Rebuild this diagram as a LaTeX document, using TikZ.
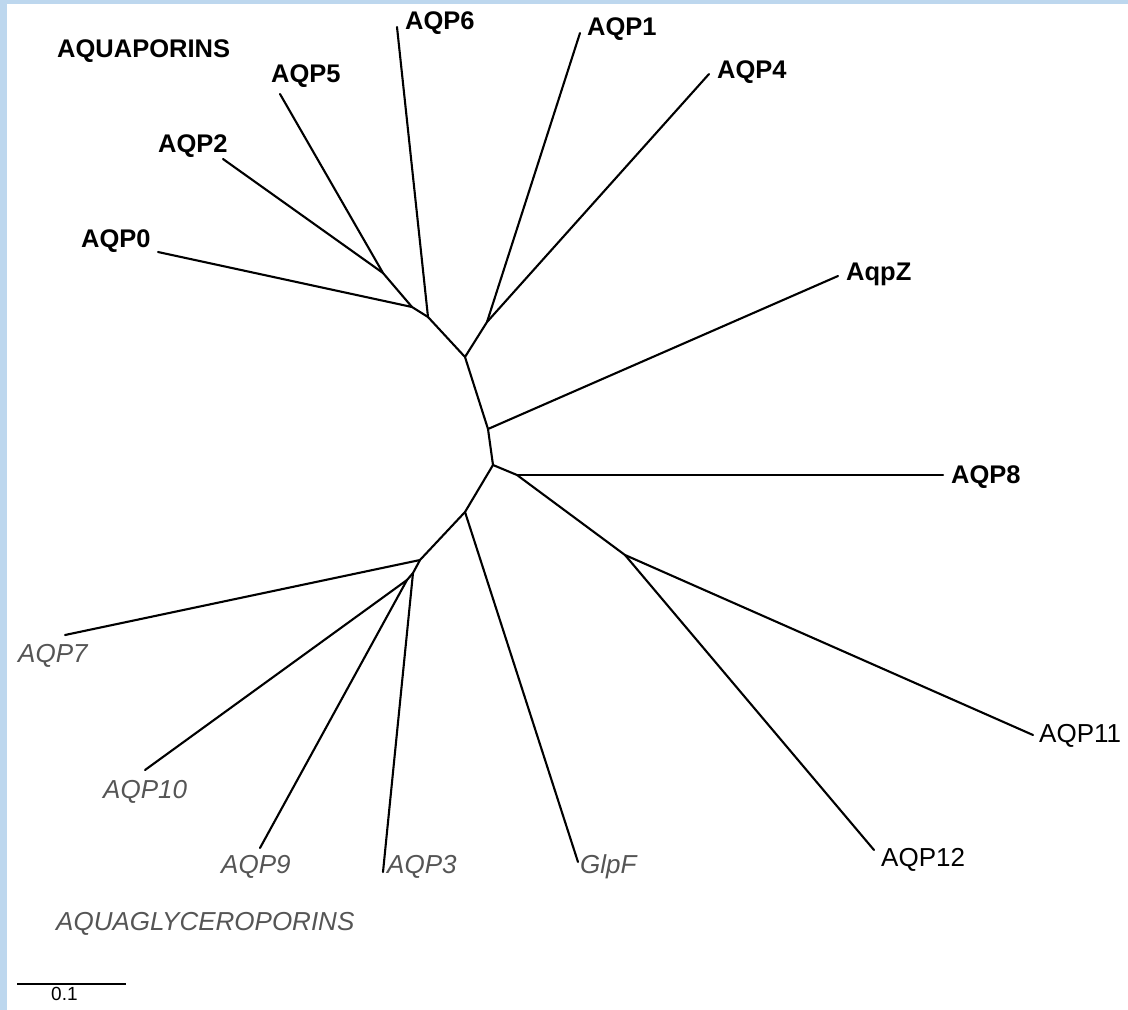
\documentclass[tikz,border=0pt]{standalone}
\usepackage{fontspec}
\setmainfont{Liberation Sans}
\definecolor{edgeblue}{RGB}{189,215,238}
\definecolor{glygray}{RGB}{85,85,85}
\tikzset{
  branch/.style={line width=2.1pt, black, line cap=round},
  aqlab/.style={anchor=base west, inner sep=0pt, font=\fontsize{25.5}{29}\selectfont\bfseries},
  glylab/.style={anchor=base west, inner sep=0pt, text=glygray, font=\fontsize{26}{30}\selectfont\itshape},
  otherlab/.style={anchor=base west, inner sep=0pt, font=\fontsize{26}{30}\selectfont},
}
\begin{document}
\begin{tikzpicture}[x=1pt,y=-1pt]
\useasboundingbox (0,0) rectangle (1128,1010);
\fill[white] (0,0) rectangle (1128,1010);
\fill[edgeblue] (0,0) rectangle (7,1010);
\fill[edgeblue] (0,0) rectangle (1128,4);

% internal nodes
\coordinate (A) at (383,273);
\coordinate (B) at (412,307);
\coordinate (C) at (428,317);
\coordinate (D) at (465,357);
\coordinate (E) at (487,322);
\coordinate (F) at (488,429);
\coordinate (G) at (493,465);
\coordinate (I) at (517,475);
\coordinate (H) at (625,555);
\coordinate (J) at (465,512);
\coordinate (K) at (420,560);
\coordinate (L) at (413,573);
\coordinate (M) at (407,580);

% leaf ends
\coordinate (l6) at (397,27);
\coordinate (l1) at (580,33);
\coordinate (l4) at (709,74);
\coordinate (lZ) at (838,276);
\coordinate (l5) at (280,94);
\coordinate (l2) at (223,159);
\coordinate (l0) at (158,252);
\coordinate (l8) at (943,475);
\coordinate (l11) at (1033,735);
\coordinate (l12) at (874,850);
\coordinate (lG) at (578,862);
\coordinate (l3) at (383,872);
\coordinate (l9) at (260,848);
\coordinate (l10) at (145,770);
\coordinate (l7) at (65,635);

% tree
\draw[branch] (l5) -- (A);
\draw[branch] (l2) -- (A);
\draw[branch] (A) -- (B) -- (C) -- (D);
\draw[branch] (l0) -- (B);
\draw[branch] (l6) -- (C);
\draw[branch] (D) -- (E);
\draw[branch] (l1) -- (E);
\draw[branch] (l4) -- (E);
\draw[branch] (D) -- (F) -- (G);
\draw[branch] (lZ) -- (F);
\draw[branch] (G) -- (I) -- (H);
\draw[branch] (I) -- (l8);
\draw[branch] (H) -- (l11);
\draw[branch] (H) -- (l12);
\draw[branch] (G) -- (J) -- (K) -- (L) -- (M);
\draw[branch] (J) -- (lG);
\draw[branch] (K) -- (l7);
\draw[branch] (L) -- (l3);
\draw[branch] (M) -- (l10);
\draw[branch] (M) -- (l9);

% labels
\node[aqlab] (tAqua) at (57,57) {AQUAPORINS};
\node[aqlab] (t5) at (271,82) {AQP5};
\node[aqlab] (t2) at (158,152) {AQP2};
\node[aqlab] (t0) at (81,247) {AQP0};
\node[aqlab] (t6) at (405,29) {AQP6};
\node[aqlab] (t1) at (587,35) {AQP1};
\node[aqlab] (t4) at (717,78) {AQP4};
\node[aqlab] (tZ) at (846,280) {AqpZ};
\node[aqlab] (t8) at (951,483) {AQP8};
\node[otherlab] (t11) at (1039,742) {AQP11};
\node[otherlab] (t12) at (881,866) {AQP12};
\node[glylab] (tG) at (580,873) {GlpF};
\node[glylab] (t3) at (387,873) {AQP3};
\node[glylab] (t9) at (221,873) {AQP9};
\node[glylab] (t10) at (103,798) {AQP10};
\node[glylab] (t7) at (18,662) {AQP7};
\node[glylab] (tGly) at (56,930) {AQUAGLYCEROPORINS};

% scale bar
\coordinate (s1) at (17,984);
\coordinate (s2) at (126,984);
\draw[line width=1.8pt] (s1) -- (s2);
\node[anchor=base west, inner sep=0pt, font=\fontsize{19}{21}\selectfont] (tScale) at (51,1000) {0.1};
\end{tikzpicture}
\end{document}
